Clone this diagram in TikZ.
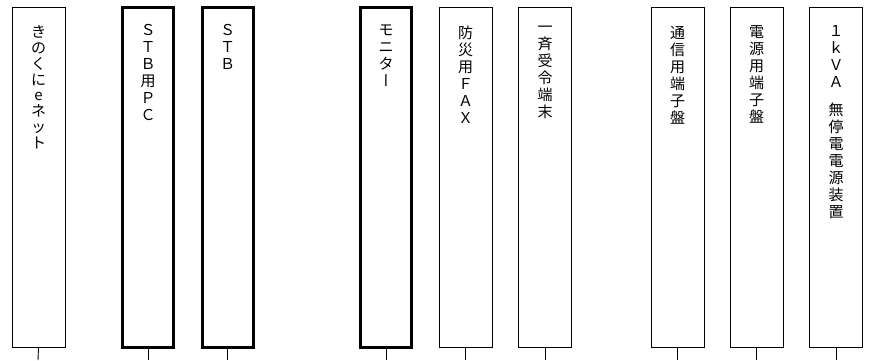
\documentclass[tikz,border=0pt]{standalone}
\usepackage{fontspec}
\setmainfont{Noto Sans CJK JP}
\newfontfamily\tatefont[RawFeature=+vert]{Noto Sans CJK JP}
\usetikzlibrary{positioning}

\tikzset{
  unit/.style={draw, minimum width=53pt, minimum height=340pt, inner sep=0pt, line width=0.9pt},
  thickunit/.style={unit, line width=3pt, minimum width=51pt},
  tatelabel/.style={align=center, inner sep=0pt, font=\fontsize{15}{17}\selectfont},
}

\begin{document}
\begin{tikzpicture}[x=1pt, y=-1pt]
          \useasboundingbox (0,0) rectangle (874,360);

          \node [unit] (kinokuni) at (38.5,177) {};
          \node [thickunit] (stbpc) at (148,177) {};
          \node [thickunit] (stb) at (227.5,177) {};
          \node [thickunit] (monitor) at (386,177) {};
          \node [unit] (fax) at (465.5,177) {};
          \node [unit] (jurei) at (545,177) {};
          \node [unit] (tsushin) at (677.5,177) {};
          \node [unit] (dengen) at (756.5,177) {};
          \node [unit] (ups) at (836,177) {};

          \node [tatelabel, below=19pt of kinokuni.north] (kinokuni-t) {き\\[-1pt]の\\[-1pt]く\\[-1pt]に\\[-2pt]e\\[-1pt]ネ\\[-1pt]ッ\\[-1pt]ト};
          \node [tatelabel, below=19pt of stbpc.north] (stbpc-t) {Ｓ\\Ｔ\\Ｂ\\用\\Ｐ\\Ｃ};
          \node [tatelabel, below=19pt of stb.north] (stb-t) {Ｓ\\Ｔ\\Ｂ};
          \node [tatelabel, below=19pt of monitor.north] (monitor-t) {モ\\ニ\\タ\\{\tatefont ー}};
          \node [tatelabel, below=19pt of fax.north] (fax-t) {防\\災\\用\\Ｆ\\Ａ\\Ｘ};
          \node [tatelabel, below=19pt of jurei.north] (jurei-t) {一\\斉\\受\\令\\端\\末};
          \node [tatelabel, below=19pt of tsushin.north] (tsushin-t) {通\\信\\用\\端\\子\\盤};
          \node [tatelabel, below=19pt of dengen.north] (dengen-t) {電\\源\\用\\端\\子\\盤};
          \node [tatelabel, below=19pt of ups.north] (ups-t) {１\\ｋ\\Ｖ\\Ａ\\[11pt]無\\停\\電\\電\\源\\装\\置};

          \coordinate (kinokuni-end) at (38,360);
          \coordinate (stbpc-end) at (148,360);
          \coordinate (stb-end) at (227.5,360);
          \coordinate (monitor-end) at (386,360);
          \coordinate (fax-end) at (465.5,360);
          \coordinate (jurei-end) at (545,360);
          \coordinate (tsushin-end) at (677.5,360);
          \coordinate (dengen-end) at (756.5,360);
          \coordinate (ups-end) at (836,360);

          \draw [line width=0.9pt] (kinokuni.south) -- (kinokuni-end);
          \draw [line width=0.9pt] (stbpc.south) -- (stbpc-end);
          \draw [line width=0.9pt] (stb.south) -- (stb-end);
          \draw [line width=0.9pt] (monitor.south) -- (monitor-end);
          \draw [line width=0.9pt] (fax.south) -- (fax-end);
          \draw [line width=0.9pt] (jurei.south) -- (jurei-end);
          \draw [line width=0.9pt] (tsushin.south) -- (tsushin-end);
          \draw [line width=0.9pt] (dengen.south) -- (dengen-end);
          \draw [line width=0.9pt] (ups.south) -- (ups-end);
        \end{tikzpicture}
\end{document}
